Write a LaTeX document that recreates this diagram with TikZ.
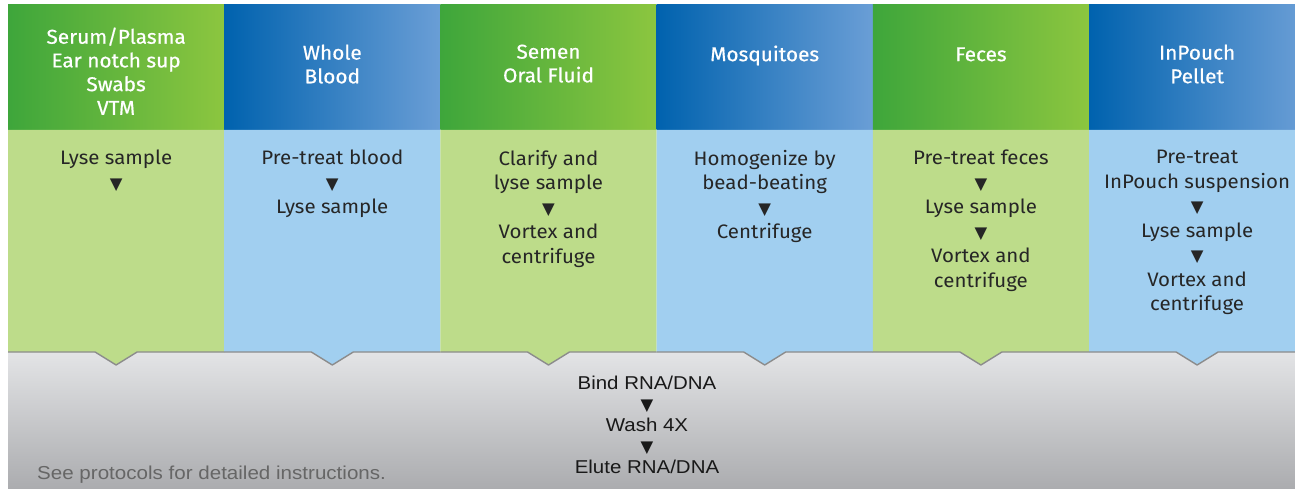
\documentclass[tikz,border=0pt]{standalone}
\usepackage{fontspec}
\setmainfont{Fira Sans}[FakeStretch=1.05]
\newfontfamily\headfont{Fira Sans}[FakeStretch=1.04,FakeBold=0.6]
\newfontfamily\bandfont{Liberation Sans}[FakeStretch=1.1]
\newfontfamily\symfont{DejaVu Sans}
\usetikzlibrary{positioning,calc}

\definecolor{hdLgreen}{HTML}{3EA63B}
\definecolor{hdRgreen}{HTML}{8CC63F}
\definecolor{hdLblue}{HTML}{0062AE}
\definecolor{hdRblue}{HTML}{6A9ED6}
\definecolor{bodygreen}{HTML}{BDDC8A}
\definecolor{bodyblue}{HTML}{A1CFF0}
\definecolor{bandtop}{HTML}{E3E4E6}
\definecolor{bandbot}{HTML}{ABACAF}

\newcommand{\dn}{{\symfont\fontsize{16.5}{16.5}\selectfont ▼}}

\begin{document}
\begin{tikzpicture}[x=1pt,y=-1pt,
  head/.style={anchor=north,align=center,text=white,inner sep=0pt,
    font=\headfont\fontsize{20}{23.7}\selectfont,execute at begin node=\strut},
  task/.style={anchor=north,align=center,text=black!85,inner sep=0pt,
    font=\fontsize{19.5}{24.5}\selectfont,execute at begin node=\strut},
  band/.style={anchor=north,align=center,text=black!90,inner sep=0pt,
    font=\bandfont\fontsize{18.6}{21}\selectfont,execute at begin node=\strut},
  rim/.style={draw=black!45,line width=1.4pt,line join=round}
]
  \fill[white] (0,0) rectangle (1295,489);
  \useasboundingbox (0,0) rectangle (1295,489);
  % grey band under the columns
  \shade[top color=bandtop,bottom color=bandbot] (8,352) rectangle (1295,489);
  \begin{scope}
    \clip (0,0) rectangle (1295,489);
    \foreach \i/\kind in {1/green,2/blue,3/green,4/blue,5/green,6/blue} {
      \pgfmathsetmacro\xl{8+(\i-1)*216.2}
      \pgfmathsetmacro\xr{\xl+216.2}
      \pgfmathsetmacro\xm{\xl+108.1}
      \coordinate (c\i) at (\xm,0);
      \shade[left color=hdL\kind,right color=hdR\kind] (\xl,5) rectangle (\xr,130);
      \fill[body\kind] (\xl,130) -- (\xr,130) -- (\xr,352) -- (\xm+21,352)
        -- (\xm,365) -- (\xm-21,352) -- (\xl,352) -- cycle;
      \draw[rim] (\xl,352) -- (\xm-21,352) -- (\xm,365) -- (\xm+21,352) -- (\xr,352);
    }
  \end{scope}

  % sample types
  \node[head] (h1) at ($(c1)+(0,27.4)$) {Serum/Plasma\\Ear notch sup\\Swabs\\VTM};
  \node[head] (h2) at ($(c2)+(0,44.4)$) {Whole\\Blood};
  \node[head] (h3) at ($(c3)+(0,44.4)$) {Semen\\Oral Fluid};
  \node[head] (h4) at ($(c4)+(0,44.4)$) {Mosquitoes};
  \node[head] (h5) at ($(c5)+(0,44.4)$) {Feces};
  \node[head] (h6) at ($(c6)+(0,44.4)$) {InPouch\\Pellet};

  % pre-treatment steps
  \node[task] (b1) at ($(c1)+(0,149.9)$) {Lyse sample\\\dn};
  \node[task] (b2) at ($(c2)+(0,149.9)$) {Pre-treat blood\\\dn\\Lyse sample};
  \node[task] (b3) at ($(c3)+(0,149.9)$) {Clarify and\\lyse sample\\\dn\\Vortex and\\centrifuge};
  \node[task] (b4) at ($(c4)+(0,149.9)$) {Homogenize by\\bead-beating\\\dn\\Centrifuge};
  \node[task] (b5) at ($(c5)+(0,149.9)$) {Pre-treat feces\\\dn\\Lyse sample\\\dn\\Vortex and\\centrifuge};
  \node[task] (b6) at ($(c6)+(0,149.9)$) {Pre-treat\\InPouch suspension\\\dn\\Lyse sample\\\dn\\Vortex and\\centrifuge};

  % common extraction
  \node[band] (common) at (647,375.5) {Bind RNA/DNA\\\dn\\Wash 4X\\\dn\\Elute RNA/DNA};
  \node[anchor=base west,inner sep=0pt,text=black!60,
    font=\bandfont\fontsize{18.7}{21}\selectfont] (note) at (37,479) {See protocols for detailed instructions.};
\end{tikzpicture}
\end{document}
